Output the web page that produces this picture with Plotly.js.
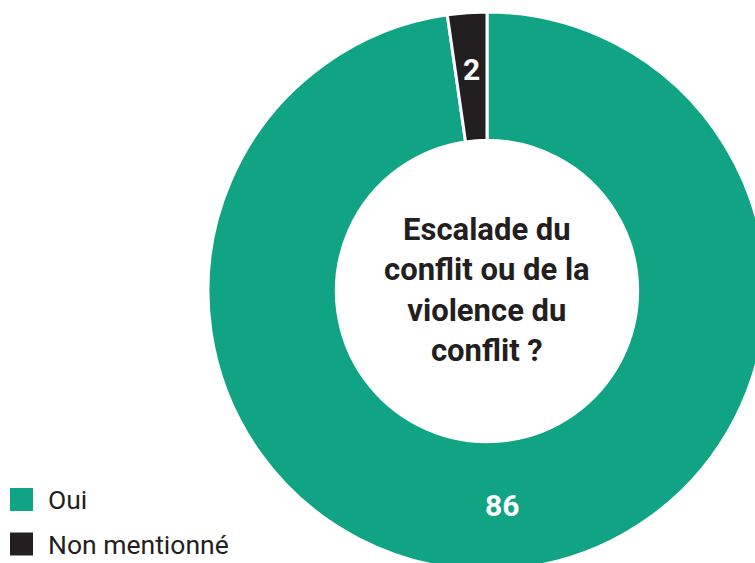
<!DOCTYPE html>
<html><head><meta charset="utf-8">
<script src="https://cdn.plot.ly/plotly-3.0.1.min.js"></script>
<style>html,body{margin:0;padding:0;overflow:hidden;background:#fff;width:755px;height:563px}#chart{width:800px;height:600px}</style>
</head><body><div id="chart"></div>
<script>
const labels = ["Oui", "Non mentionné"];
const values = [86, 2];
const colors = ["#10A384", "#231F20"];
const centerTitle = "Escalade du<br>conflit ou de la<br>violence du<br>conflit ?";

const W = 800, H = 600;
const CX = 487, CY = 291, R = 279, HOLE = 0.54;
const trace = {
  type: "pie", labels: labels, values: values, hole: HOLE, sort: false,
  direction: "clockwise", rotation: 0,
  marker: {colors: colors, line: {color: "#ffffff", width: 3}},
  textinfo: "value", textposition: ["inside", "none"], insidetextorientation: "horizontal",
  textfont: {family: "Roboto, sans-serif", size: 30, color: "#ffffff", weight: 700},
  domain: {x: [(CX - R) / W, (CX + R) / W], y: [(H - CY - R) / H, (H - CY + R) / H]},
  showlegend: false, hoverinfo: "label+value"
};

const shapes = [], annotations = [];
const rowY = [499.5, 544];
labels.forEach((lab, i) => {
  const cy = rowY[i];
  shapes.push({type: "rect", xref: "paper", yref: "paper",
    x0: 10 / W, x1: 33 / W, y0: (H - (cy + 11.5)) / H, y1: (H - (cy - 11.5)) / H,
    fillcolor: colors[i], line: {width: 0}});
  annotations.push({text: lab, xref: "paper", yref: "paper", x: 46 / W, y: (H - cy) / H,
    xanchor: "left", yanchor: "middle", showarrow: false,
    font: {family: "Roboto, sans-serif", size: 26.5, color: "#231F20"}});
});
// value label for the narrow slice, placed at its mid-angle (derived from the data)
const total = values.reduce((a, b) => a + b, 0);
const startFrac = values.slice(0, 1).reduce((a, b) => a + b, 0) / total;
const midAng = (startFrac + values[1] / total / 2) * 2 * Math.PI;
const rLab = R * (1 + HOLE) / 2 + 7;
annotations.push({text: "<b>" + values[1] + "</b>", xref: "paper", yref: "paper",
  x: (CX + rLab * Math.sin(midAng)) / W, y: (H - (CY - rLab * Math.cos(midAng))) / H,
  xanchor: "center", yanchor: "middle", showarrow: false,
  font: {family: "Roboto, sans-serif", size: 30, color: "#ffffff"}});
annotations.push({text: "<b>" + centerTitle + "</b>", xref: "paper", yref: "paper",
  x: CX / W, y: (H - 290) / H, xanchor: "center", yanchor: "middle", showarrow: false,
  align: "center", font: {family: "Roboto, sans-serif", size: 31, color: "#231F20"}});

Plotly.newPlot("chart", [trace], {
  width: W, height: H, margin: {l: 0, r: 0, t: 0, b: 0},
  paper_bgcolor: "#ffffff", showlegend: false, shapes: shapes, annotations: annotations,
  font: {family: "Roboto, sans-serif"}
}, {displayModeBar: false, staticPlot: true});
</script></body></html>
